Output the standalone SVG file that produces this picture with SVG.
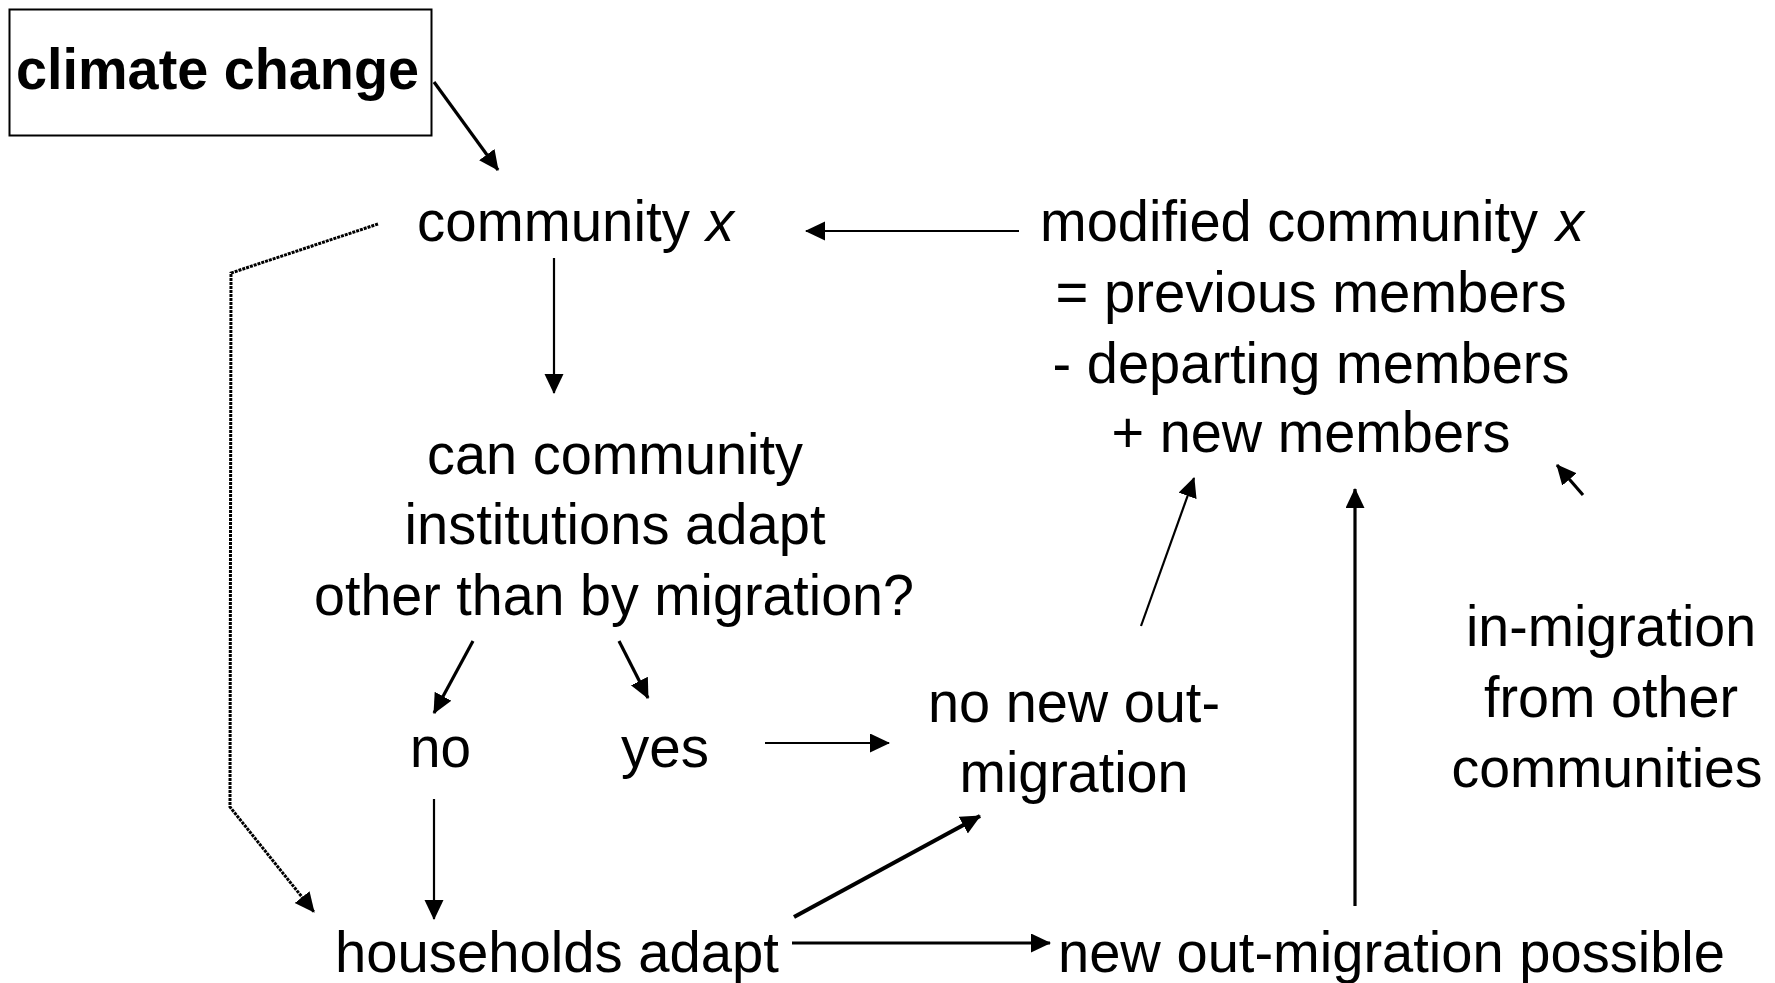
<svg xmlns="http://www.w3.org/2000/svg" width="1775" height="983" viewBox="0 0 1775 983">
<style>
text{font-family:"Liberation Sans",Arial,sans-serif;font-size:58px;fill:#000}
.b{font-weight:bold}
.i{font-style:italic}
.m{text-anchor:middle}
.s{font-size:56px}
.c{stroke:#000;stroke-width:2.2;fill:none}
.t{stroke-width:3.2}
.k{stroke-width:4.2}
.d{stroke-width:3;stroke-dasharray:3 1}
</style>
<defs>
<marker id="ah" markerUnits="userSpaceOnUse" markerWidth="22" markerHeight="20" refX="19" refY="9.5" orient="auto">
<path d="M0,0 L20,9.5 L0,19 z" fill="#000"/>
</marker>
</defs>
<rect width="1775" height="983" fill="#fff"/>
<g id="climate-change">
<rect x="9.5" y="9.5" width="422" height="126" fill="none" stroke="#000" stroke-width="2"/>
<text class="b" x="16" y="89" textLength="403" lengthAdjust="spacingAndGlyphs">climate change</text>
</g>
<g id="community-x">
<text x="417" y="241" textLength="273" lengthAdjust="spacingAndGlyphs">community</text>
<text class="i" x="706" y="241" textLength="28" lengthAdjust="spacingAndGlyphs">x</text>
</g>
<g id="modified-community">
<text x="1040" y="241" textLength="498" lengthAdjust="spacingAndGlyphs">modified community</text>
<text class="i" x="1556" y="241" textLength="28" lengthAdjust="spacingAndGlyphs">x</text>
<text class="m" x="1311" y="312" textLength="511" lengthAdjust="spacingAndGlyphs">= previous members</text>
<text class="m" x="1311" y="383" textLength="517" lengthAdjust="spacingAndGlyphs">- departing members</text>
<text class="m" x="1311" y="452" textLength="399" lengthAdjust="spacingAndGlyphs">+ new members</text>
</g>
<g id="question">
<text class="m" x="615" y="474" textLength="376" lengthAdjust="spacingAndGlyphs">can community</text>
<text class="m" x="615" y="544" textLength="421" lengthAdjust="spacingAndGlyphs">institutions adapt</text>
<text class="m" x="614" y="615" textLength="600" lengthAdjust="spacingAndGlyphs">other than by migration?</text>
</g>
<g id="no"><text x="410" y="767" textLength="61" lengthAdjust="spacingAndGlyphs">no</text></g>
<g id="yes"><text x="621" y="767" textLength="88" lengthAdjust="spacingAndGlyphs">yes</text></g>
<g id="no-new-out">
<text class="m" x="1074" y="722" textLength="292" lengthAdjust="spacingAndGlyphs">no new out-</text>
<text class="m" x="1074" y="792" textLength="229" lengthAdjust="spacingAndGlyphs">migration</text>
</g>
<g id="in-migration">
<text class="m" x="1611" y="646" textLength="290" lengthAdjust="spacingAndGlyphs">in-migration</text>
<text class="m" x="1611" y="717" textLength="254" lengthAdjust="spacingAndGlyphs">from other</text>
<text class="m s" x="1607" y="787" textLength="311" lengthAdjust="spacingAndGlyphs">communities</text>
</g>
<g id="households"><text x="335" y="972" textLength="444" lengthAdjust="spacingAndGlyphs">households adapt</text></g>
<g id="new-out"><text x="1058" y="972" textLength="667" lengthAdjust="spacingAndGlyphs">new out-migration possible</text></g>
<g id="connectors">
<line class="c t" x1="434" y1="82" x2="498" y2="170" marker-end="url(#ah)"/>
<line class="c" x1="1019" y1="231" x2="806" y2="231" marker-end="url(#ah)"/>
<line class="c" x1="554" y1="258" x2="554" y2="393" marker-end="url(#ah)"/>
<line class="c t" x1="473" y1="641" x2="434" y2="713" marker-end="url(#ah)"/>
<line class="c t" x1="619" y1="641" x2="648" y2="698" marker-end="url(#ah)"/>
<line class="c" x1="765" y1="743" x2="889" y2="743" marker-end="url(#ah)"/>
<line class="c" x1="1141" y1="626" x2="1194" y2="478" marker-end="url(#ah)"/>
<line class="c t" x1="1355" y1="906" x2="1355" y2="489" marker-end="url(#ah)"/>
<line class="c t" x1="1583" y1="495" x2="1557" y2="465" marker-end="url(#ah)"/>
<line class="c" x1="434" y1="799" x2="434" y2="919" marker-end="url(#ah)"/>
<line class="c t" x1="792" y1="943" x2="1050" y2="943" marker-end="url(#ah)"/>
<line class="c k" x1="794" y1="917" x2="980" y2="816" marker-end="url(#ah)"/>
<polyline class="c d" points="378,224 231,273 230,807 314,912" marker-end="url(#ah)"/>
</g>
</svg>
